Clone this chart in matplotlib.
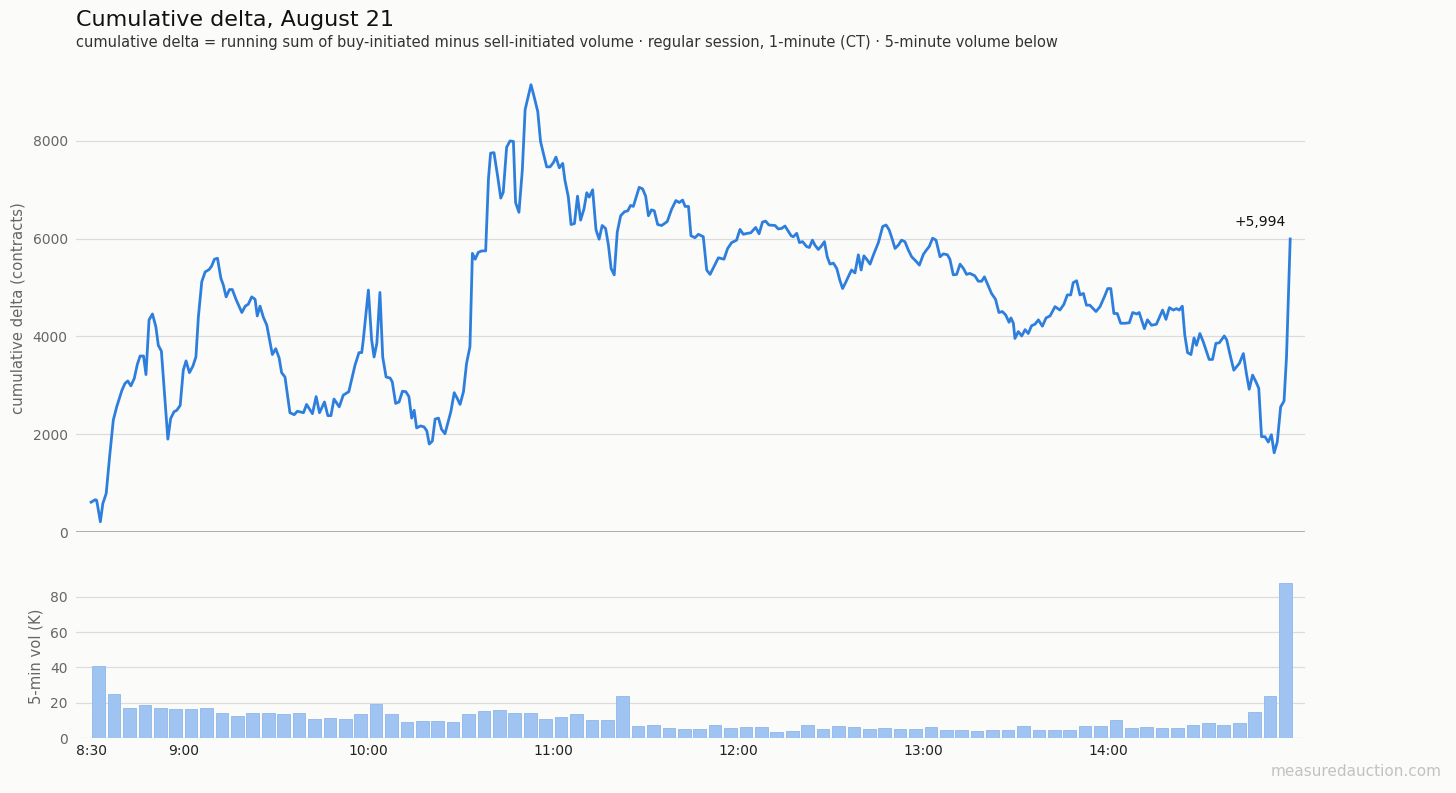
import matplotlib
matplotlib.use("Agg")
import matplotlib.pyplot as plt
import numpy as np

# %% data
# cumulative delta, minutes after 8:30 CT (regular session)
minutes = [0, 1.3, 1.8, 3, 3.8, 4.9, 6, 7.2, 8.3, 10, 11, 11.9, 12.9, 14, 15, 15.9, 17, 17.8,
           18.8, 19.9, 21, 21.8, 22.8, 23.8, 24.9, 25.8, 26.9, 27.8, 28.9, 29.9, 30.8, 31.9,
           33, 34, 34.8, 35.9, 37, 38.3, 39.1, 40, 41, 42.1, 42.9, 43.8, 44.9, 45.8, 47, 48.9,
           50, 51, 52.1, 53.2, 53.9, 54.8, 55.9, 57, 58.8, 59.9, 61, 61.8, 62.9, 64.5, 65.9,
           66.9, 68.9, 69.9, 71.8, 73, 74.1, 75.7, 76.8, 77.8, 78.8, 80.5, 81.8, 83.6, 85.6,
           86.9, 87.8,
           88.3, 89.95, 91.0, 91.8, 92.7, 93.7, 94.6, 95.7, 97, 97.7, 98.8, 99.9, 101, 102.1,
           103.1, 104, 104.8, 105.6, 106.9, 108, 108.9, 109.7, 110.7, 111.6, 112.7, 113.7,
           114.8, 115.6, 116.7, 117.8, 118.8, 119.7, 120.8, 121.8, 122.9, 123.7, 124.6, 125.6,
           126.7, 128, 128.9, 129.6, 130.7, 131.9, 132.9, 133.7, 134.8, 135.9, 137, 137.7,
           138.8, 139.9, 140.8, 141.8, 142.7, 143.7, 144.9, 145.8, 146.7, 147.8, 148.9, 150,
           150.8, 151.9, 153, 153.7, 154.8, 155.7, 156.8, 157.8, 158.8, 159.9, 160.8, 161.6,
           162.7, 163.8, 164.8, 165.8, 166.9, 167.8, 168.7, 169.7, 170.7, 171.8, 173, 174.1,
           175, 175.9, 177, 177.8, 178.9, 179.9, 180.8, 181.8, 182.7, 183.8,
           185.1, 186.9, 188.3, 189.7, 190.8, 191.9, 192.7, 193.8, 194.6, 195.9, 197, 198.6,
           199.7, 200.8, 201.9, 203.5, 205.3, 206.5, 207.8, 209.4, 210.5, 211.6, 212.9, 214,
           215.6, 216.7, 217.8, 218.8, 219.9, 221.9, 222.9, 224, 225.1, 225.9, 227.1, 227.8,
           228.9, 229.8, 230.8, 232.1, 233, 234, 234.8, 235.9, 236.8, 237.9, 238.8, 239.7,
           240.8, 241.9, 242.9, 243.8, 244.9, 246, 246.7, 247.8, 248.9, 249.8, 250.7, 251.6,
           252.7, 253.8, 255.4, 256.8, 257.9, 258.9, 259.9, 260.8, 261.9, 262.9, 264, 265.1,
           266.2, 267.6, 268.7, 270, 271, 271.9, 273, 274.1, 275.4, 276.5, 277.8, 278.6,
           279.7, 280.8,
           281.9, 283, 284, 285.1, 286.7, 287.8, 288.9, 289.8, 291.1, 292.1, 293.4, 294.5,
           295.6, 296.7, 297.8, 298.4, 299.2, 299.7, 300.8, 301.9, 303, 304, 305.1, 306.2,
           307.3, 308.6, 309.8, 311.1, 312.7, 314.3, 315.6, 316.7, 317.8, 318.6, 319.7, 320.8,
           321.9, 322.9, 324, 326, 327.3, 328.7, 329.8, 330.8, 331.8, 332.9, 334, 335.4,
           336.8, 337.9, 339.2, 340, 341.7, 342.7, 344, 345.6, 347.6, 348.7, 349.8, 351.1,
           352.1, 353, 354, 354.8, 355.7, 356.8, 357.8, 358.6, 359.7, 360.8, 362.7, 363.8,
           364.9, 366, 367.6, 368.4, 369.4, 370.7, 372.5, 373.8, 374.8, 375.7, 376.8, 377.9,
           378.8, 379.7, 380.8, 381.9, 382.9, 383.8, 384.8, 385.9, 387, 387.8, 389]

delta = [610, 660, 650, 210, 580, 790, 1540, 2290, 2560, 2900, 3040, 3090, 2990, 3140, 3430,
         3600, 3600, 3220, 4340, 4460, 4200, 3820, 3700, 2830, 1900, 2320, 2460, 2490, 2590,
         3310, 3500, 3260, 3390, 3580, 4400, 5120, 5320, 5370, 5440, 5580, 5600, 5190, 5050,
         4810, 4960, 4960, 4760, 4490, 4620, 4660, 4810, 4760, 4420, 4620, 4390, 4230, 3630,
         3750, 3560, 3260, 3170, 2440, 2400, 2470, 2440, 2610, 2420, 2770, 2440, 2660, 2380,
         2380, 2720, 2560, 2800, 2870, 3410, 3670, 3670,
         3930, 4950, 3930, 3580, 3860, 4900, 3580, 3170, 3150, 3070, 2630, 2660, 2880, 2870,
         2770, 2330, 2490, 2130, 2170, 2150, 2070, 1800, 1860, 2310, 2330, 2100, 2010, 2200,
         2460, 2850, 2730, 2610, 2870, 3450, 3790, 5700, 5580, 5720, 5750, 5750, 7220, 7750,
         7760, 7270, 6830, 6950, 7870, 8000, 7990, 6740, 6540, 7410, 8640, 8910, 9150, 8910,
         8600, 7990, 7750, 7470, 7470, 7560, 7670, 7450, 7540, 7200, 6860, 6290, 6310, 6870,
         6380, 6610, 6940, 6850, 7000, 6180, 5990, 6270, 6210, 5880, 5390, 5260, 6140, 6470,
         6550, 6570, 6680, 6660, 6890, 7050, 7020, 6870, 6470, 6590, 6570, 6290,
         6270, 6350, 6600, 6780, 6740, 6790, 6660, 6660, 6060, 6020, 6090, 6040, 5360, 5270,
         5410, 5610, 5580, 5800, 5920, 5970, 6190, 6090, 6110, 6120, 6230, 6100, 6340, 6360,
         6280, 6270, 6200, 6210, 6260, 6180, 6060, 6040, 6110, 5920, 5940, 5840, 5820, 5970,
         5870, 5780, 5840, 5940, 5630, 5480, 5500, 5390, 5150, 4980, 5120, 5270, 5360, 5300,
         5670, 5360, 5650, 5580, 5480, 5670, 5920, 6250, 6280, 6180, 5990, 5800, 5870, 5970,
         5940, 5770, 5630, 5540, 5460, 5680, 5770, 5840, 6010, 5970, 5630, 5690, 5670, 5580,
         5260, 5270,
         5480, 5390, 5270, 5290, 5240, 5130, 5130, 5220, 5030, 4880, 4760, 4490, 4510, 4440,
         4290, 4380, 4270, 3960, 4100, 4010, 4140, 4060, 4220, 4250, 4340, 4210, 4380, 4420,
         4610, 4540, 4660, 4850, 4850, 5100, 5140, 4850, 4880, 4640, 4640, 4510, 4610, 4810,
         4980, 4980, 4470, 4470, 4270, 4270, 4280, 4490, 4460, 4490, 4160, 4340, 4230, 4250,
         4540, 4350, 4590, 4540, 4570, 4540, 4620, 4030, 3670, 3630, 3970, 3820, 4060, 3890,
         3530, 3530, 3860, 3870, 4010, 3930, 3650, 3310, 3450, 3650, 3240, 2920, 3210, 3070,
         2940, 1950, 1950, 1840, 1990, 1620, 1840, 2560, 2680, 3580, 5994]

# 5-minute volume (thousands of contracts), one bar per 5-minute bucket from 8:30
bar_start = list(range(0, 390, 5))
volume_k = [41, 25, 17, 19, 17.2, 16.3, 16.3, 17.2, 14.4, 12.3, 14, 14, 13.6, 14, 10.8, 11.3,
            10.8, 13.6, 19.1, 13.6, 8.9, 9.5, 9.5, 8.9, 13.6, 15.5, 15.9, 14, 14, 10.8, 11.7,
            13.6, 10.4, 10.4, 23.8, 6.6, 7.2, 5.9, 5.3, 5.3,
            7.2, 5.9, 6.2, 6.2, 3.4, 4.0, 7.2, 5.3, 6.6, 6.2, 5.3, 5.9, 5.3, 5.3, 6.2, 4.7,
            4.7, 4.0, 4.7, 4.7, 6.6, 4.3, 4.7, 4.7, 6.6, 6.6, 10.4, 5.9, 6.2, 5.9, 5.9, 7.2,
            8.5, 7.6, 8.5, 14.6, 24.0, 88]

tick_minutes = [0, 30, 90, 150, 210, 270, 330]
tick_labels = ['8:30', '9:00', '10:00', '11:00', '12:00', '13:00', '14:00']

# %% styling
bg = '#fbfbf9'
line_col = '#2e7fdd'
bar_col = '#a0c4f2'
grid_col = '#dcdcdc'

W, H = 1456, 793
fig = plt.figure(figsize=(W / 100, H / 100), dpi=100, facecolor=bg)

left = 76 / W
width = (1305 - 76) / W
ax = fig.add_axes([left, 1 - 532 / H, width, (532 - 67.6) / H], facecolor=bg)
axv = fig.add_axes([left, 1 - 738 / H, width, (738 - 575.8) / H], facecolor=bg)

xlim = (-4.9, 393.8)

# top panel: cumulative delta
ax.plot(minutes, delta, color=line_col, lw=2.0, solid_joinstyle='round', zorder=3)
ax.set_xlim(xlim)
ax.set_ylim(0, 9500)
ax.set_yticks([0, 2000, 4000, 6000, 8000])
ax.set_xticks([])
ax.grid(axis='y', color=grid_col, lw=0.9)
ax.axhline(0, color='#a8a8a8', lw=1.3, zorder=2)
ax.set_axisbelow(True)
ax.set_ylabel('cumulative delta (contracts)', fontsize=10.7, color='#666666', va='center')
ax.yaxis.set_label_coords((18 - 76) / (1305 - 76), (532 - 308) / (532 - 67.6))

ax.annotate(f"+{delta[-1]:,}", xy=(minutes[-1], delta[-1]), xytext=(-4, 13),
            textcoords='offset pixels', ha='right', va='baseline', fontsize=10, color='#111111')

# bottom panel: 5-minute volume
axv.bar(np.array(bar_start) + 0.4, volume_k, width=4.1, align='edge', color=bar_col,
        edgecolor='#8fb6ea', linewidth=0.6, zorder=3)
axv.set_xlim(xlim)
axv.set_ylim(0, 92)
axv.set_yticks([0, 20, 40, 60, 80])
axv.set_xticks(tick_minutes)
axv.set_xticklabels(tick_labels)
axv.grid(axis='y', color=grid_col, lw=0.9)
axv.set_axisbelow(True)
axv.set_ylabel('5-min vol (K)', fontsize=10.6, color='#666666', va='center')
axv.yaxis.set_label_coords((36 - 76) / (1305 - 76), (738 - 656) / (738 - 575.8))

for a in (ax, axv):
    for s in a.spines.values():
        s.set_visible(False)
    a.tick_params(axis='y', length=0, pad=6, labelsize=10, labelcolor='#666666')
    a.tick_params(axis='x', length=0, pad=4, labelsize=10, labelcolor='#222222')

# titles
fig.text(left, 1 - 26.5 / H, 'Cumulative delta, August 21', fontsize=16, color='#111111',
         ha='left', va='baseline')
fig.text(left, 1 - 47.5 / H,
         'cumulative delta = running sum of buy-initiated minus sell-initiated volume'
         ' \u00b7 regular session, 1-minute (CT) \u00b7 5-minute volume below',
         fontsize=10.5, color='#333333', ha='left', va='baseline')
fig.text(1442 / W, 1 - 772 / H, 'measuredauction.com', fontsize=11, color='#c2c2c2',
         ha='right', va='center')

fig.savefig('out.png', dpi=100, facecolor=bg)
